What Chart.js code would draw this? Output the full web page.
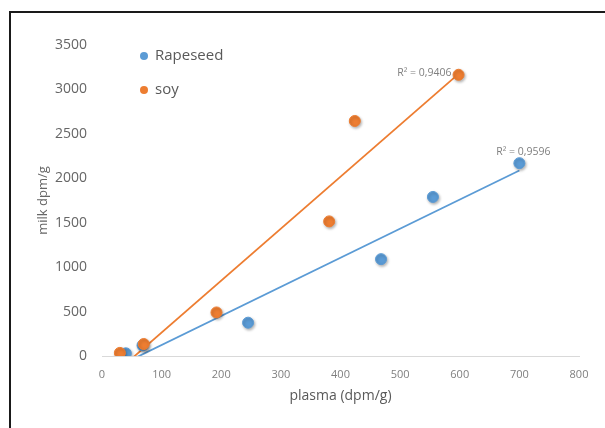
<!DOCTYPE html>
<html>
<head>
<meta charset="utf-8">
<script src="https://cdn.jsdelivr.net/npm/chart.js@4.4.1/dist/chart.umd.min.js"></script>
<style>
  html, body { margin: 0; padding: 0; background: #fff; }
  #wrap { position: relative; width: 605px; height: 428px; overflow: hidden; }
  #frame { position: absolute; left: 9px; top: 11px; width: 700px; height: 500px;
           border-left: 2px solid #1a1a1a; border-top: 2px solid #1a1a1a; }
  canvas { position: absolute; left: 0; top: 0; }
</style>
</head>
<body>
<div id="wrap">
  <div id="frame"></div>
  <canvas id="milkChart" width="605" height="428"></canvas>
</div>
<script>
// values
const seriesNames = ['Rapeseed', 'soy'];
const rapeseedPlasma = [40, 68, 245, 468, 555, 700];
const rapeseedMilk = [30, 120, 375, 1090, 1790, 2170];
const soyPlasma = [30, 70, 192, 381, 424, 598];
const soyMilk = [35, 135, 490, 1515, 2645, 3165];
const r2Labels = ['R² = 0,9596', 'R² = 0,9406'];
const xTicks = [0, 100, 200, 300, 400, 500, 600, 700, 800];
const yTicks = [0, 500, 1000, 1500, 2000, 2500, 3000, 3500];

const blue = '#5B9BD5';
const orange = '#ED7D31';

const toPoints = (xs, ys) => xs.map((x, i) => ({ x: x, y: ys[i] }));

// least squares trendline, like the spreadsheet one
function trendline(xs, ys) {
    const n = xs.length;
    const mx = xs.reduce((a, b) => a + b, 0) / n;
    const my = ys.reduce((a, b) => a + b, 0) / n;
    let sxy = 0, sxx = 0;
    xs.forEach((x, i) => {
        sxy += (x - mx) * (ys[i] - my);
        sxx += (x - mx) * (x - mx);
    });
    const slope = sxy / sxx;
    const icpt = my - slope * mx;
    const x0 = Math.min(...xs), x1 = Math.max(...xs);
    return [{ x: x0, y: icpt + slope * x0 }, { x: x1, y: icpt + slope * x1 }];
}

const rapeseedTrend = trendline(rapeseedPlasma, rapeseedMilk);
const soyTrend = trendline(soyPlasma, soyMilk);

// legend drawn inside the plot, top left
const legendPlugin = {
    id: 'innerLegend',
    afterDraw(chart) {
        const c = chart.ctx;
        const colors = [blue, orange];
        c.save();
        c.font = '15px "Open Sans"';
        c.textBaseline = 'middle';
        seriesNames.forEach((name, i) => {
            const y = 56 + i * 34;
            c.fillStyle = colors[i];
            c.beginPath();
            c.arc(144, y, 4, 0, Math.PI * 2);
            c.fill();
            c.fillStyle = '#595959';
            c.fillText(name, 155, y);
        });
        c.restore();
    }
};

// R² texts next to the end of each trendline
const r2Plugin = {
    id: 'r2Labels',
    afterDatasetsDraw(chart) {
        const c = chart.ctx;
        const xs = chart.scales.x, ys = chart.scales.y;
        c.save();
        c.font = '10.5px "Open Sans"';
        c.fillStyle = '#7f7f7f';
        c.textBaseline = 'middle';
        // rapeseed: above the last point
        let p = rapeseedTrend[1];
        c.textAlign = 'center';
        c.fillText(r2Labels[0], xs.getPixelForValue(p.x) + 4, ys.getPixelForValue(p.y) - 18);
        // soy: left of the last point
        p = soyTrend[1];
        c.textAlign = 'right';
        c.fillText(r2Labels[1], xs.getPixelForValue(p.x) - 7, ys.getPixelForValue(p.y) - 1);
        c.restore();
    }
};

// soft shadow under the markers
const shadowPlugin = {
    id: 'markerShadow',
    beforeDatasetDraw(chart, args) {
        if (chart.data.datasets[args.index].type === 'scatter') {
            const c = chart.ctx;
            c.save();
            c.shadowColor = 'rgba(0,0,0,0.3)';
            c.shadowBlur = 3;
            c.shadowOffsetX = 1;
            c.shadowOffsetY = 1.5;
        }
    },
    afterDatasetDraw(chart, args) {
        if (chart.data.datasets[args.index].type === 'scatter') {
            chart.ctx.restore();
        }
    }
};

const ctx = document.getElementById('milkChart').getContext('2d');
new Chart(ctx, {
    data: {
        datasets: [
            {
                type: 'line',
                label: 'Rapeseed trend',
                data: rapeseedTrend,
                borderColor: blue,
                borderWidth: 1.8,
                pointRadius: 0,
                order: 3,
            },
            {
                type: 'line',
                label: 'soy trend',
                data: soyTrend,
                borderColor: orange,
                borderWidth: 1.8,
                pointRadius: 0,
                order: 3,
            },
            {
                type: 'scatter',
                label: seriesNames[0],
                data: toPoints(rapeseedPlasma, rapeseedMilk),
                backgroundColor: blue,
                borderColor: blue,
                pointRadius: 5.5,
                order: 2,
            },
            {
                type: 'scatter',
                label: seriesNames[1],
                data: toPoints(soyPlasma, soyMilk),
                backgroundColor: orange,
                borderColor: orange,
                pointRadius: 5.5,
                order: 1,
            },
        ],
    },
    options: {
        responsive: false,
        animation: false,
        layout: {
            padding: { left: 10, right: 26, top: 45, bottom: 10 },
        },
        plugins: {
            legend: { display: false },
            tooltip: { enabled: false },
        },
        scales: {
            x: {
                type: 'linear',
                min: 0,
                max: 800,
                afterBuildTicks: (axis) => { axis.ticks = xTicks.map(v => ({ value: v })); },
                afterFit: (axis) => { axis.height = 62; },
                grid: { display: false },
                border: { display: true, color: '#d9d9d9', width: 1 },
                ticks: {
                    color: '#7f7f7f',
                    font: { family: 'Open Sans', size: 11 },
                    padding: 4,
                    callback: (v) => String(v),
                },
                title: {
                    display: true,
                    text: 'plasma (dpm/g)',
                    color: '#595959',
                    font: { family: 'Open Sans', size: 14 },
                    padding: { top: 0, bottom: 14 },
                },
            },
            y: {
                type: 'linear',
                min: 0,
                max: 3500,
                afterBuildTicks: (axis) => { axis.ticks = yTicks.map(v => ({ value: v })); },
                afterFit: (axis) => { axis.width = 92; },
                grid: { display: false },
                border: { display: false },
                ticks: {
                    color: '#666666',
                    font: { family: 'Open Sans', size: 14 },
                    padding: 7,
                    callback: (v) => String(v),
                },
                title: {
                    display: true,
                    text: 'milk dpm/g',
                    color: '#666666',
                    font: { family: 'Open Sans', size: 13 },
                    padding: { top: 25, bottom: 0 },
                },
            },
        },
    },
    plugins: [legendPlugin, r2Plugin, shadowPlugin],
});
</script>
</body>
</html>
